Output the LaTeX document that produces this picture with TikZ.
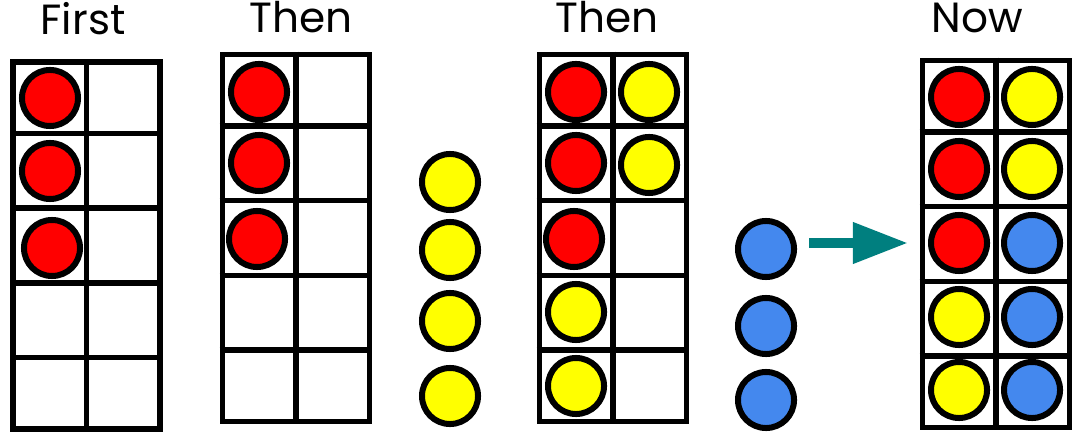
\documentclass[tikz,border=0pt]{standalone}
\usepackage{fontspec}
\setmainfont{Poppins}
\usepackage{tikz}
\usetikzlibrary{calc,arrows.meta}

\definecolor{cred}{HTML}{FF0000}
\definecolor{cyellow}{HTML}{FFFF00}
\definecolor{cblue}{HTML}{4488EE}
\definecolor{cteal}{HTML}{007F7F}

\tikzset{
    frame/.style={draw, rectangle, line width=0.055cm, minimum width=1.47cm, minimum height=3.67cm, inner sep=0pt},
    counter/.style={draw, circle, line width=0.06cm, minimum size=0.56cm, inner sep=0pt},
    title/.style={anchor=base, font=\fontsize{12pt}{14pt}\selectfont},
    pointer/.style={-{Triangle[length=0.55cm, width=0.39cm]}, line width=0.1cm, cteal}
}

\begin{document}
\begin{tikzpicture}[x=0.01cm, y=-0.01cm]
        \useasboundingbox (0,0) rectangle (1080,440);
        % Ten frames
        \node[frame] (f1) at (86.5,245.5) {};
        \node[frame] (f2) at (296,238) {};
        \node[frame] (f3) at (613,238) {};
        \node[frame] (f4) at (996,244) {};
        \foreach \f in {f1,f2,f3,f4}{
            \draw[line width=0.055cm] (\f.north) -- (\f.south);
            \foreach \i in {1,...,4}
                \draw[line width=0.055cm] ($(\f.north west)!\i/5!(\f.south west)$) -- ($(\f.north east)!\i/5!(\f.south east)$);
        }

        % Titles
        \node[title] (t1) at (83,35) {First};
        \node[title] (t2) at (301,33) {Then};
        \node[title] (t3) at (607,33) {Then};
        \node[title] (t4) at (977,33) {Now};

        % First
        \node[counter, fill=cred] (a1) at (50,98) {};
        \node[counter, fill=cred] (a2) at (50,171) {};
        \node[counter, fill=cred] (a3) at (52,248) {};

        % Then
        \node[counter, fill=cred] (b1) at (259,92) {};
        \node[counter, fill=cred] (b2) at (259,163) {};
        \node[counter, fill=cred] (b3) at (257,239) {};

        % Yellow counters added
        \node[counter, fill=cyellow] (y1) at (450,182) {};
        \node[counter, fill=cyellow] (y2) at (450,250) {};
        \node[counter, fill=cyellow] (y3) at (450,321) {};
        \node[counter, fill=cyellow] (y4) at (450,396) {};

        % Then, with yellow
        \node[counter, fill=cred] (c1) at (576,92) {};
        \node[counter, fill=cyellow] (c2) at (649,92) {};
        \node[counter, fill=cred] (c3) at (576,163) {};
        \node[counter, fill=cyellow] (c4) at (649,165) {};
        \node[counter, fill=cred] (c5) at (574,239) {};
        \node[counter, fill=cyellow] (c6) at (576,312) {};
        \node[counter, fill=cyellow] (c7) at (576,386) {};

        % Blue counters added
        \node[counter, fill=cblue] (u1) at (766,249) {};
        \node[counter, fill=cblue] (u2) at (766,326) {};
        \node[counter, fill=cblue] (u3) at (766,400) {};

        % Now
        \node[counter, fill=cred] (d1) at (959,97) {};
        \node[counter, fill=cyellow] (d2) at (1032,97) {};
        \node[counter, fill=cred] (d3) at (959,169) {};
        \node[counter, fill=cyellow] (d4) at (1032,169) {};
        \node[counter, fill=cred] (d5) at (959,243) {};
        \node[counter, fill=cblue] (d6) at (1032,243) {};
        \node[counter, fill=cyellow] (d7) at (959,317) {};
        \node[counter, fill=cblue] (d8) at (1032,317) {};
        \node[counter, fill=cyellow] (d9) at (959,390) {};
        \node[counter, fill=cblue] (d10) at (1032,390) {};

        % Arrow
        \coordinate (tail) at (809,243);
        \coordinate (tip) at (908,243);
        \draw[pointer] (tail) -- (tip);
\end{tikzpicture}
\end{document}
